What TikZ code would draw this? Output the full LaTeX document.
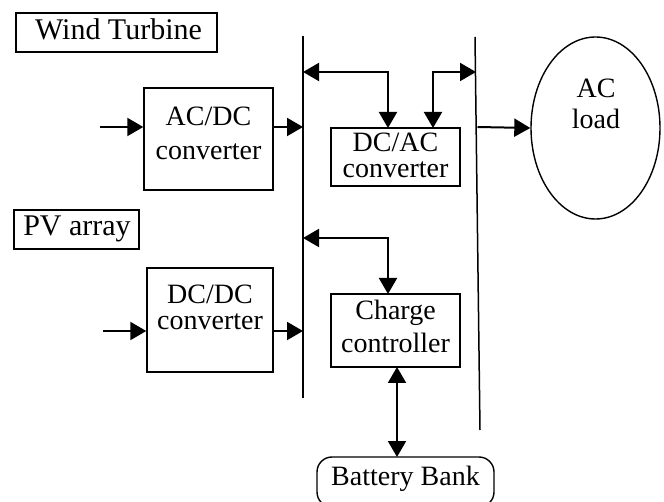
\documentclass[tikz,border=0pt]{standalone}
\usepackage{fontspec}
\setmainfont{Liberation Serif}
\usetikzlibrary{arrows.meta,shapes.geometric}
\begin{document}
\begin{tikzpicture}[x=1pt,y=-1pt,
  box/.style={draw,line width=1.4pt,inner sep=0pt,rectangle},
  lbl/.style={anchor=base,inner sep=0pt,font=\fontsize{28}{28}\selectfont},
  upper/.style={lbl,text depth=0pt},
  lower/.style={lbl,text height=16pt},
  big/.style={anchor=base,inner sep=0pt,font=\fontsize{30}{30}\selectfont},
  bus/.style={line width=1.5pt},
  tip/.tip={Triangle[length=16pt,width=18pt]},
  conn/.style={line width=2pt,-tip},
  dconn/.style={line width=2pt,tip-tip}]
\useasboundingbox (0,0) rectangle (664,502);
\fill[white] (0,0) rectangle (664,502);
% labels in boxes
\node[box,minimum width=201pt,minimum height=39pt] (wt) at (116.5,32.5) {};
\node[big] (wtt) at (118.5,40) {Wind Turbine};
\node[box,minimum width=125pt,minimum height=39pt] (pv) at (76.5,229.5) {};
\node[big] (pvt) at (77,236) {PV array};
% converter boxes
\node[box,minimum width=129pt,minimum height=102pt] (acdc) at (208.5,139) {};
\node[lbl] (acdc1) at (208.5,126) {AC/DC};
\node[lbl] (acdc2) at (208.5,160) {converter};
\node[box,minimum width=126pt,minimum height=104pt] (dcdc) at (210,320) {};
\node[upper] (dcdc1) at (210,304) {DC/DC};
\node[lower] (dcdc2) at (210,330) {converter};
\node[box,minimum width=129pt,minimum height=58pt] (dcac) at (395.5,157) {};
\node[upper] (dcac1) at (395.5,152) {DC/AC};
\node[lower] (dcac2) at (395.5,178) {converter};
\node[box,minimum width=129pt,minimum height=73pt] (cc) at (395.5,330.5) {};
\node[lbl] (cc1) at (395.5,320) {Charge};
\node[lbl] (cc2) at (395.5,353) {controller};
% AC load
\node[draw,line width=1.4pt,ellipse,minimum width=129pt,minimum height=182pt,inner sep=0pt] (load) at (595.5,128) {};
\node[lbl] (load1) at (596,98) {AC};
\node[lbl] (load2) at (596,129) {load};
% battery bank
\node[draw,line width=1.4pt,rounded corners=15pt,minimum width=177pt,minimum height=50pt,inner sep=0pt] (bat) at (405.5,482) {};
\node[lbl] (bat1) at (405.5,485) {Battery Bank};
% buses
\coordinate (lt) at (303,36);
\coordinate (lb) at (303,398);
\coordinate (rt) at (475,37);
\coordinate (rb) at (480,430);
\draw[bus] (lt) -- (lb);
\draw[bus] (rt) -- (rb);
% inputs
\coordinate (in1) at (100,127);
\coordinate (in2) at (103,331);
\coordinate (b1) at (303,127);
\coordinate (b2) at (303,331);
\draw[conn] (in1) -- (in1 -| acdc.west);
\draw[conn] (acdc.east |- b1) -- (b1);
\draw[conn] (in2) -- (in2 -| dcdc.west);
\draw[conn] (dcdc.east |- b2) -- (b2);
% DC/AC links
\coordinate (bl72) at (303,72);
\coordinate (br72) at (476,72);
\coordinate (dcacA) at (388,128);
\coordinate (dcacB) at (433,128);
\draw[dconn] (bl72) -| (dcacA);
\draw[dconn] (dcacB) |- (br72);
% to load
\coordinate (rb127) at (477.5,127);
\draw[conn] (rb127) -- (load.west);
% charge controller link
\coordinate (bl238) at (303,238);
\coordinate (ccA) at (388,294);
\draw[dconn] (bl238) -| (ccA);
% battery link
\coordinate (ccB) at (397,367);
\coordinate (batT) at (397,457);
\draw[dconn] (ccB) -- (batT);
\end{tikzpicture}
\end{document}
